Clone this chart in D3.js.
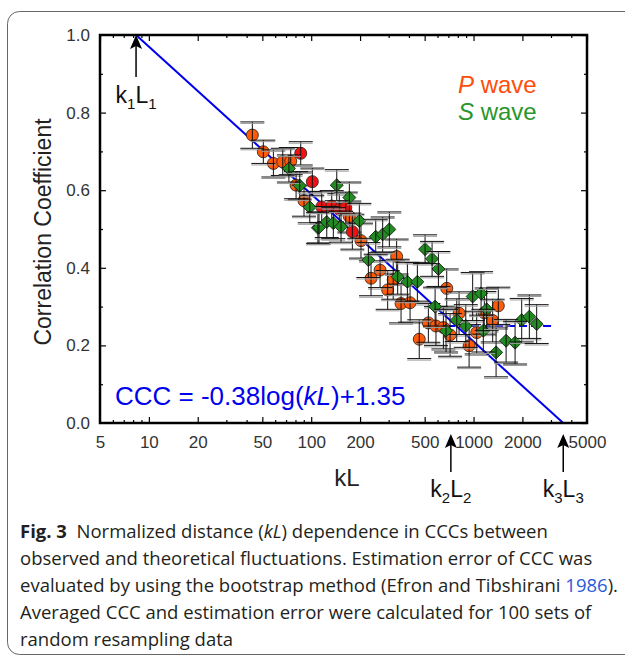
<!DOCTYPE html>
<html>
<head>
<meta charset="utf-8">
<script src="https://cdn.jsdelivr.net/npm/d3@7"></script>
<style>
  body { margin: 0; background: #fff; }
  svg { display: block; }
</style>
</head>
<body>
<svg id="chart" width="625" height="660"></svg>
<script>
// P wave (orange)
var pKL  = [43.4, 50.7, 58.5, 66.8, 74.8, 80.7, 90.3, 171.8, 202.6, 265.6, 233.7, 295.8, 336, 320, 357.7, 406.5, 683.7, 814.5, 1421, 1166, 1312, 1046, 527, 587, 652, 717, 463, 939]
var pCCC = [0.742, 0.699, 0.669, 0.673, 0.675, 0.613, 0.573, 0.532, 0.470, 0.394, 0.373, 0.343, 0.429, 0.369, 0.308, 0.310, 0.347, 0.283, 0.302, 0.284, 0.264, 0.233, 0.258, 0.250, 0.246, 0.227, 0.216, 0.199]
var pErr = [0.034, 0.030, 0.035, 0.035, 0.035, 0.035, 0.040, 0.040, 0.045, 0.045, 0.045, 0.050, 0.045, 0.050, 0.050, 0.050, 0.050, 0.055, 0.048, 0.055, 0.055, 0.055, 0.050, 0.050, 0.055, 0.055, 0.050, 0.055]
// P wave (red)
var pRedKL  = [86.2, 101.6, 116.1, 133.8, 149, 163.3, 179.3]
var pRedCCC = [0.695, 0.622, 0.557, 0.559, 0.551, 0.555, 0.493]
var pRedErr = [0.030, 0.035, 0.040, 0.040, 0.040, 0.040, 0.045]
// S wave
var sKL  = [72.9, 85, 98, 110, 143.7, 171.8, 198, 111.7, 124.7, 136.9, 152.7, 249.8, 275.6, 303, 225, 341, 391.3, 450.8, 502.9, 555.5, 607.7, 579.7, 987.8, 1113, 1205, 1149, 677, 896, 788, 1377, 1587, 1803, 1980, 2207, 2449]
var sCCC = [0.656, 0.612, 0.556, 0.503, 0.613, 0.581, 0.521, 0.504, 0.518, 0.515, 0.506, 0.480, 0.486, 0.499, 0.420, 0.377, 0.364, 0.364, 0.448, 0.423, 0.397, 0.300, 0.326, 0.334, 0.293, 0.238, 0.238, 0.250, 0.265, 0.182, 0.212, 0.207, 0.265, 0.274, 0.255]
var sErr = [0.035, 0.035, 0.040, 0.040, 0.040, 0.040, 0.045, 0.040, 0.040, 0.040, 0.040, 0.045, 0.045, 0.045, 0.045, 0.045, 0.050, 0.050, 0.037, 0.045, 0.045, 0.050, 0.062, 0.056, 0.055, 0.055, 0.055, 0.055, 0.055, 0.063, 0.055, 0.055, 0.056, 0.056, 0.050]

// fit CCC = a log(kL) + b, and plateau
var fitA = -0.38, fitB = 1.35
var plateauKL = [687, 3050]
var plateauCCC = 0.25

var xTicks = [5, 10, 20, 50, 100, 200, 500, 1000, 2000, 5000]
var xMinor = [6, 7, 8, 9, 30, 40, 60, 70, 80, 90, 300, 400, 600, 700, 800, 900, 3000, 4000]
var yTicks = [0, 0.2, 0.4, 0.6, 0.8, 1.0]
var yMinor = [0.1, 0.3, 0.5, 0.7, 0.9]

// arrows: k1L1, k2L2, k3L3
var markKL = [Math.pow(10, (1 - fitB) / fitA), 725, Math.pow(10, -fitB / fitA)]
var markSub = ['1', '2', '3']

var caption = [
  [{t: 'Fig. 3', b: true}, {t: '  Normalized distance ('}, {t: 'kL', i: true}, {t: ') dependence in CCCs between'}],
  [{t: 'observed and theoretical fluctuations. Estimation error of CCC was'}],
  [{t: 'evaluated by using the bootstrap method (Efron and Tibshirani '}, {t: '1986', c: '#2a5bd7'}, {t: ').'}],
  [{t: 'Averaged CCC and estimation error were calculated for 100 sets of'}],
  [{t: 'random resampling data'}]
]

var svg = d3.select('#chart')
var plotL = 100, plotR = 587, plotT = 35, plotB = 423
var font = 'Liberation Sans, Arial, sans-serif'

const xScale = d3.scaleLog().domain([5, 5000]).range([plotL, plotR])
const yScale = d3.scaleLinear().domain([0, 1]).range([plotB, plotT])

// caption box
svg.append('rect')
  .attr('x', 7.5).attr('y', 11.5)
  .attr('width', 660).attr('height', 643)
  .attr('rx', 12)
  .attr('fill', 'none').attr('stroke', '#666').attr('stroke-width', 1)

// ticks (inward) on all four sides
function addAxis(axis, tr) {
  var g = svg.append('g').attr('transform', tr).call(axis)
  g.select('.domain').remove()
  g.selectAll('line').attr('stroke', '#000').attr('stroke-width', 1.2)
  return g
}
var fmtX = d3.format('d')
var gx = addAxis(d3.axisBottom(xScale).tickValues(xTicks).tickSize(-6).tickPadding(13).tickFormat(fmtX), 'translate(0,' + plotB + ')')
addAxis(d3.axisBottom(xScale).tickValues(xMinor).tickSize(-3).tickFormat(''), 'translate(0,' + plotB + ')')
addAxis(d3.axisTop(xScale).tickValues(xTicks).tickSize(-6).tickFormat(''), 'translate(0,' + plotT + ')')
addAxis(d3.axisTop(xScale).tickValues(xMinor).tickSize(-3).tickFormat(''), 'translate(0,' + plotT + ')')
var gy = addAxis(d3.axisLeft(yScale).tickValues(yTicks).tickSize(-6).tickPadding(10).tickFormat(d3.format('.1f')), 'translate(' + plotL + ',0)')
addAxis(d3.axisLeft(yScale).tickValues(yMinor).tickSize(-3).tickFormat(''), 'translate(' + plotL + ',0)')
addAxis(d3.axisRight(yScale).tickValues(yTicks).tickSize(-6).tickFormat(''), 'translate(' + plotR + ',0)')
addAxis(d3.axisRight(yScale).tickValues(yMinor).tickSize(-3).tickFormat(''), 'translate(' + plotR + ',0)')

gx.selectAll('text').attr('font-family', font).attr('font-size', 17).attr('fill', '#333')
gx.selectAll('.tick line').filter(function (d) { return d === 5 || d === 5000 }).remove()
gy.selectAll('text').attr('font-family', font).attr('font-size', 17).attr('fill', '#333')
gy.selectAll('.tick line').filter(function (d) { return d === 0 || d === 1 }).remove()

// fit line, plateau
var fitLine = [markKL[0], markKL[2]]
svg.append('path')
  .datum(fitLine)
  .attr('fill', 'none').attr('stroke', '#0000ee').attr('stroke-width', 2)
  .attr('d', d3.line().x(function (d) { return xScale(d) }).y(function (d) { return yScale(fitA * Math.log10(d) + fitB) }))

svg.append('line')
  .attr('x1', xScale(plateauKL[0])).attr('x2', xScale(plateauKL[1]))
  .attr('y1', yScale(plateauCCC)).attr('y2', yScale(plateauCCC))
  .attr('stroke', '#0000ee').attr('stroke-width', 2).attr('stroke-dasharray', '8,4')

// points + error bars
function series(kl, ccc, err, shape, fill) {
  var data = kl.map(function (k, i) { return {k: k, c: ccc[i], e: err[i]} })
  var g = svg.append('g')
  if (shape === 'circle') {
    g.selectAll('circle').data(data).enter().append('circle')
      .attr('cx', function (d) { return xScale(d.k) })
      .attr('cy', function (d) { return yScale(d.c) })
      .attr('r', 6)
      .attr('fill', fill).attr('stroke', '#3a2a20').attr('stroke-width', 0.9)
  } else {
    g.selectAll('path').data(data).enter().append('path')
      .attr('d', d3.symbol().type(d3.symbolSquare).size(84))
      .attr('transform', function (d) { return 'translate(' + xScale(d.k) + ',' + yScale(d.c) + ') rotate(45)' })
      .attr('fill', fill).attr('stroke', '#1a2a1a').attr('stroke-width', 0.9)
  }
  var eb = svg.append('g').attr('stroke', '#111').attr('stroke-width', 1)
  data.forEach(function (d) {
    var x = xScale(d.k)
    eb.append('line').attr('x1', x).attr('x2', x).attr('y1', yScale(d.c + d.e)).attr('y2', yScale(d.c - d.e))
    ;[d.c + d.e, d.c - d.e].forEach(function (v) {
      eb.append('line').attr('x1', x - 12).attr('x2', x + 12).attr('y1', yScale(v)).attr('y2', yScale(v))
      eb.append('line').attr('x1', x - 12).attr('x2', x + 12).attr('y1', yScale(v) + 1.5).attr('y2', yScale(v) + 1.5)
        .attr('stroke', '#999')
    })
  })
}
series(pKL, pCCC, pErr, 'circle', '#ff5a0a')
series(pRedKL, pRedCCC, pRedErr, 'circle', '#f01212')
series(sKL, sCCC, sErr, 'diamond', '#228b22')

// frame
svg.append('rect')
  .attr('x', plotL).attr('y', plotT).attr('width', plotR - plotL).attr('height', plotB - plotT)
  .attr('fill', 'none').attr('stroke', '#000').attr('stroke-width', 2.5)

// arrows with kL labels
function arrowLabel(x, yTip, yEnd, sub, yText) {
  svg.append('line').attr('x1', x).attr('x2', x).attr('y1', yTip + 6).attr('y2', yEnd)
    .attr('stroke', '#000').attr('stroke-width', 1.5)
  svg.append('path')
    .attr('d', 'M' + x + ',' + yTip + 'L' + (x - 6) + ',' + (yTip + 14) + 'L' + x + ',' + (yTip + 11) + 'L' + (x + 6) + ',' + (yTip + 14) + 'Z')
    .attr('fill', '#000')
  var t = svg.append('text').attr('x', x).attr('y', yText)
    .attr('text-anchor', 'middle').attr('font-family', font).attr('font-size', 23).attr('fill', '#111')
  t.append('tspan').text('k')
  t.append('tspan').attr('dy', 6).attr('font-size', 15).text(sub)
  t.append('tspan').attr('dy', -6).text('L')
  t.append('tspan').attr('dy', 6).attr('font-size', 15).text(sub)
}
arrowLabel(xScale(markKL[0]), plotT, 77, markSub[0], 103)
arrowLabel(xScale(markKL[1]), 434, 472, markSub[1], 497)
arrowLabel(xScale(markKL[2]), 434, 472, markSub[2], 497)

// legend
var lg = svg.append('g').attr('font-family', font).attr('font-size', 24)
var l1 = lg.append('text').attr('x', 458).attr('y', 93).attr('fill', '#ff4d0a')
l1.append('tspan').attr('font-style', 'italic').text('P')
l1.append('tspan').text(' wave')
var l2 = lg.append('text').attr('x', 458).attr('y', 120).attr('fill', '#2a952a')
l2.append('tspan').attr('font-style', 'italic').text('S')
l2.append('tspan').text(' wave')

// equation
var eq = svg.append('text').attr('x', 115).attr('y', 405)
  .attr('font-family', font).attr('font-size', 26).attr('fill', '#0000ee')
eq.append('tspan').text('CCC = -0.38log(')
eq.append('tspan').attr('font-style', 'italic').text('kL')
eq.append('tspan').text(')+1.35')

// axis titles
svg.append('text').attr('x', 347).attr('y', 486).attr('text-anchor', 'middle')
  .attr('font-family', font).attr('font-size', 24).attr('fill', '#222').text('kL')
svg.append('text').attr('transform', 'translate(51,232) rotate(-90)').attr('text-anchor', 'middle')
  .attr('font-family', font).attr('font-size', 23).attr('fill', '#222').text('Correlation Coefficient')

// caption
var cap = svg.append('g').attr('font-family', 'Open Sans, Noto Sans, sans-serif').attr('font-size', 18.5).attr('fill', '#231f20')
caption.forEach(function (line, i) {
  var t = cap.append('text').attr('x', 20).attr('y', 538 + i * 27)
  line.forEach(function (s) {
    var sp = t.append('tspan').text(s.t).attr('xml:space', 'preserve')
    if (s.b) sp.attr('font-weight', 'bold')
    if (s.i) sp.attr('font-style', 'italic')
    if (s.c) sp.attr('fill', s.c)
  })
})
</script>
</body>
</html>
